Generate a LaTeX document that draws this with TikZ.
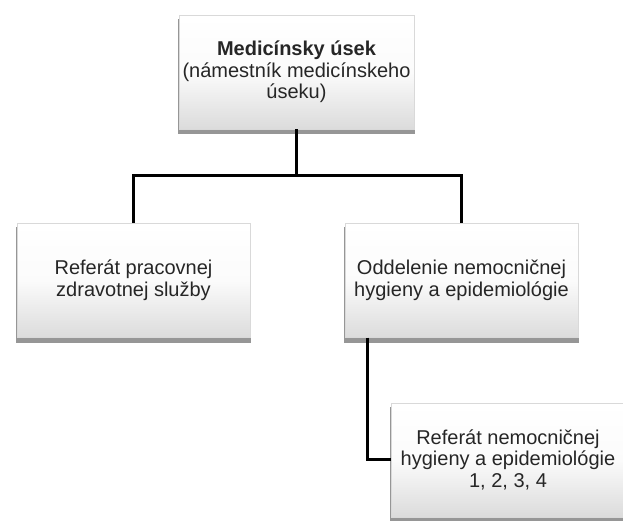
\documentclass[tikz,border=0pt]{standalone}
\usepackage{fontspec}
\setmainfont{Liberation Sans}
\usetikzlibrary{positioning,shadows}

\begin{document}
\begin{tikzpicture}[
  x=1pt, y=1pt,
  unitbox/.style={draw=gray!30, rectangle, minimum width=233pt, minimum height=114pt,
    align=center, text=black!85, font=\fontsize{20}{21.5}\selectfont,
    top color=white, bottom color=gray!28, middle color=white!97!gray,
    drop shadow={shadow xshift=0pt, shadow yshift=-4.5pt, shadow scale=1.012, fill=black!55, opacity=0.75}},
  link/.style={draw=black, line width=3.2pt}
]
\useasboundingbox (0,0) rectangle (623,-520);

\node[unitbox] (usek) at (296.5,-72) {\textbf{Medicínsky úsek}\\(námestník medicínskeho\\úseku)};
\node[unitbox, below=94pt of usek, xshift=-163pt] (refprac) {Referát pracovnej\\zdravotnej služby};
\node[unitbox, below=94pt of usek, xshift=165pt] (oddhyg) {Oddelenie nemocničnej\\hygieny a epidemiológie};
\node[unitbox, below=65pt of oddhyg, xshift=46.5pt] (refhyg) {Referát nemocničnej\\hygieny a epidemiológie\\1, 2, 3, 4};

\path[link] (usek.south) -- ++(0,-46) coordinate (split);
\path[link] (split) -| (refprac.north)
(split) -| (oddhyg.north);
\path[link] ([xshift=23pt]oddhyg.south west) |- (refhyg.west);

\end{tikzpicture}
\end{document}
